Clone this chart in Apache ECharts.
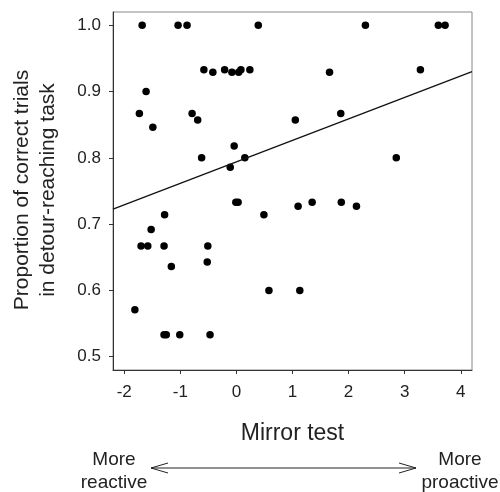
<!DOCTYPE html>
<html>
<head>
<meta charset="utf-8">
<script src="https://cdn.jsdelivr.net/npm/echarts@6/dist/echarts.min.js"></script>
<style>
  html, body { margin: 0; padding: 0; background: #fff; }
  #chart { width: 500px; height: 492px; }
</style>
</head>
<body>
<div id="chart"></div>
<script>
// mirror test score (x) vs proportion correct in detour-reaching task (y)
var mirrorScores = [-1.68, -1.04, -0.88, 0.39, 2.30, 3.60, 3.72,
  -0.58, -0.42, -0.21, -0.08, 0.04, 0.08, 0.24, 1.66, 3.28,
  -1.61, -1.73, -1.49, -0.79, -0.69, 1.05, 1.86,
  -0.04, -0.62, 0.15, 2.85, -0.11,
  -0.01, 0.03, 1.10, 1.35, 1.87, 2.14, 0.49, -1.28,
  -1.52, -1.70, -1.58, -1.29, -0.51, -0.52, -1.16,
  0.58, 1.13, -1.81, -1.29, -1.25, -1.01, -0.47];
var detourProps = [1.0, 1.0, 1.0, 1.0, 1.0, 1.0, 1.0,
  0.933, 0.929, 0.933, 0.929, 0.929, 0.933, 0.933, 0.929, 0.933,
  0.9, 0.867, 0.846, 0.867, 0.857, 0.857, 0.867,
  0.818, 0.8, 0.8, 0.8, 0.786,
  0.733, 0.733, 0.727, 0.733, 0.733, 0.727, 0.714, 0.714,
  0.692, 0.667, 0.667, 0.667, 0.667, 0.643, 0.636,
  0.6, 0.6, 0.571, 0.533, 0.533, 0.533, 0.533];

// fitted line
var fitIntercept = 0.794;
var fitSlope = 0.0324;

var xTicks = [-2, -1, 0, 1, 2, 3, 4];
var yTicks = [0.5, 0.6, 0.7, 0.8, 0.9, 1.0];
var xRange = [-2.2, 4.2];
var yRange = [0.48, 1.02];

var points = [];
for (var i = 0; i < mirrorScores.length; i++) {
  points.push([mirrorScores[i], detourProps[i]]);
}
var fitLine = [
  [xRange[0], fitIntercept + fitSlope * xRange[0]],
  [xRange[1], fitIntercept + fitSlope * xRange[1]]
];

var font = 'Liberation Sans, Arial, sans-serif';
var myChart = echarts.init(document.getElementById('chart'));

var option = {
  animation: false,
  grid: {
    left: 113, top: 12, right: 28, bottom: 122,
    show: true, borderColor: '#888', borderWidth: 1
  },
  xAxis: {
    type: 'value',
    min: xRange[0], max: xRange[1],
    name: 'Mirror test',
    nameLocation: 'middle',
    nameGap: 52,
    nameTextStyle: { fontFamily: font, fontSize: 23, color: '#222' },
    axisLine: { show: true, onZero: false, lineStyle: { color: '#333', width: 1 } },
    axisTick: { show: true, length: 4, customValues: xTicks, lineStyle: { color: '#333' } },
    axisLabel: { customValues: xTicks, margin: 14, fontFamily: font, fontSize: 17, color: '#222' },
    splitLine: { show: false }
  },
  yAxis: {
    type: 'value',
    min: yRange[0], max: yRange[1],
    axisLine: { show: true, onZero: false, lineStyle: { color: '#333', width: 1 } },
    axisTick: { show: true, length: 4, customValues: yTicks, lineStyle: { color: '#333' } },
    axisLabel: {
      customValues: yTicks, margin: 12, fontFamily: font, fontSize: 17, color: '#222',
      formatter: function (v) { return v.toFixed(1); }
    },
    splitLine: { show: false }
  },
  series: [{
    type: 'scatter',
    data: points,
    symbol: 'circle',
    symbolSize: 7.5,
    itemStyle: { color: '#000', opacity: 1 }
  }, {
    type: 'line',
    data: fitLine,
    symbol: 'none',
    lineStyle: { color: '#111', width: 1.3 }
  }],
  graphic: [{
    type: 'text',
    x: 35, y: 190,
    rotation: Math.PI / 2,
    style: {
      text: 'Proportion of correct trials\nin detour-reaching task',
      font: '21px ' + font,
      fill: '#222',
      align: 'center',
      verticalAlign: 'middle',
      lineHeight: 26
    }
  }, {
    type: 'text',
    x: 114, y: 471,
    style: {
      text: 'More\nreactive',
      font: '19px ' + font,
      fill: '#222',
      align: 'center',
      verticalAlign: 'middle',
      lineHeight: 23
    }
  }, {
    type: 'text',
    x: 460, y: 471,
    style: {
      text: 'More\nproactive',
      font: '19px ' + font,
      fill: '#222',
      align: 'center',
      verticalAlign: 'middle',
      lineHeight: 23
    }
  }, {
    type: 'line',
    shape: { x1: 151, y1: 468, x2: 416, y2: 468 },
    style: { stroke: '#222', lineWidth: 1 }
  }, {
    type: 'polyline',
    shape: { points: [[168, 463], [151, 468], [168, 473]] },
    style: { stroke: '#222', lineWidth: 1, fill: null }
  }, {
    type: 'polyline',
    shape: { points: [[399, 463], [416, 468], [399, 473]] },
    style: { stroke: '#222', lineWidth: 1, fill: null }
  }]
};

myChart.setOption(option);
</script>
</body>
</html>
